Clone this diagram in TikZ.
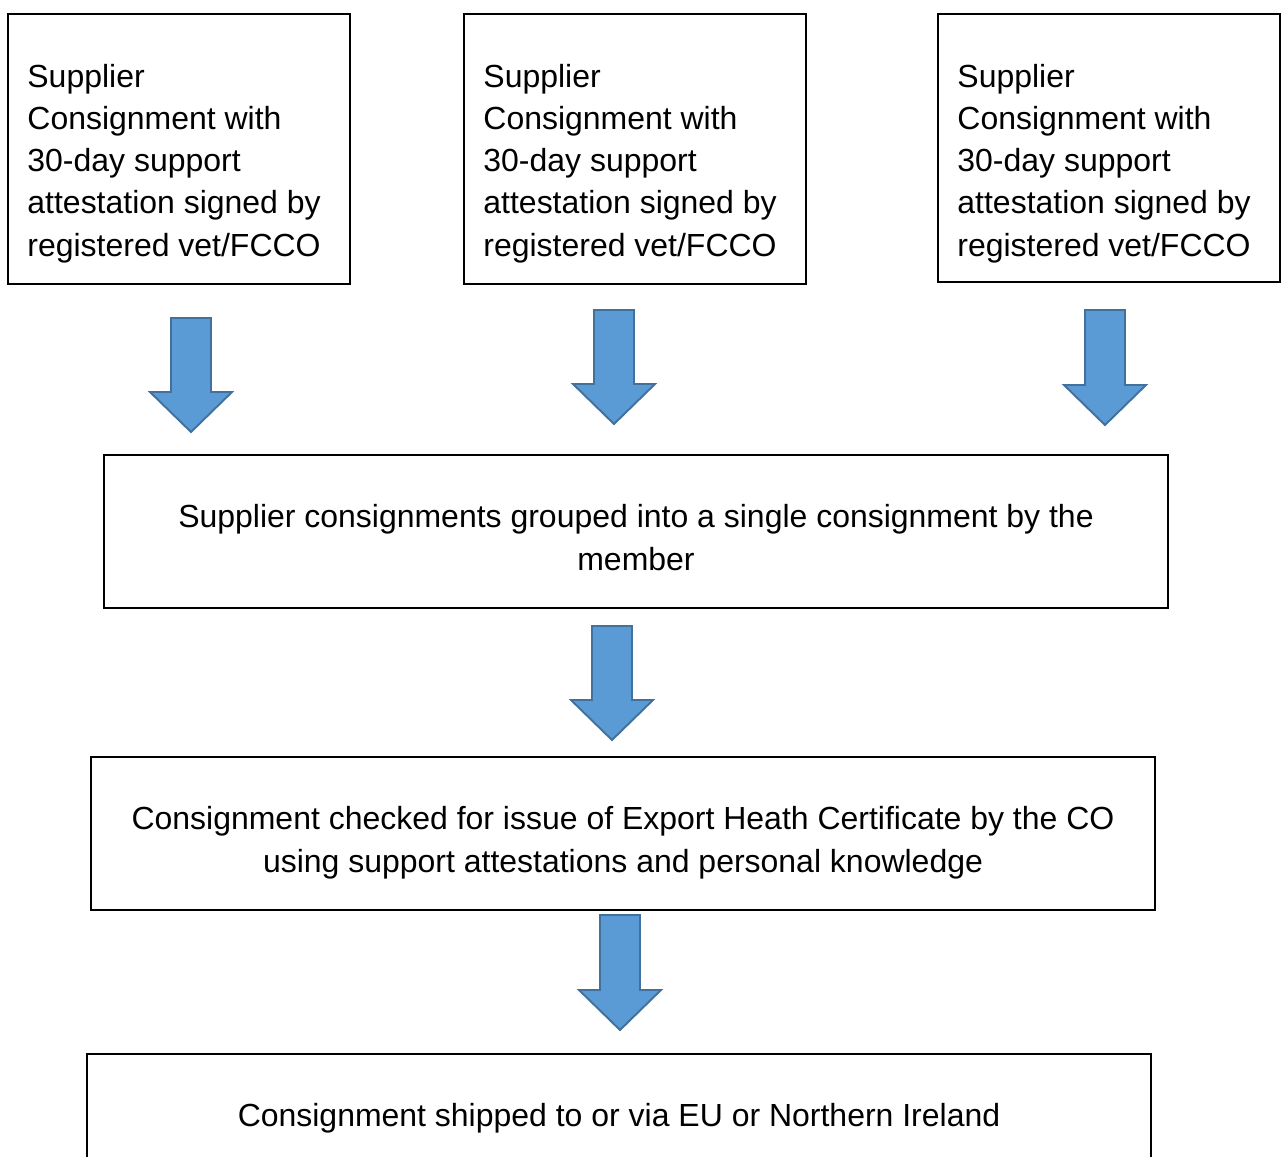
\documentclass[tikz,border=0pt]{standalone}
\usepackage{fontspec}
\setmainfont{Liberation Sans}
\usetikzlibrary{calc}
\definecolor{arrowfill}{HTML}{5B9BD5}
\definecolor{arrowline}{HTML}{41719C}

\begin{document}
\begin{tikzpicture}[x=0.02cm,y=-0.02cm,
  frame/.style={draw,line width=1.1pt,inner sep=0pt},
  txt/.style={inner sep=0pt,font=\fontsize{18.2pt}{24pt}\selectfont},
  blockarrow/.style={fill=arrowfill,draw=arrowline,line width=1.1pt,line join=miter}]
\clip (0,0) rectangle (1286,1157);
\useasboundingbox (0,0) rectangle (1286,1157);
\node[frame,minimum width=6.84cm,minimum height=5.4cm] (sup1) at (179,149) {};
\node[frame,minimum width=6.84cm,minimum height=5.4cm] (sup2) at (635,149) {};
\node[frame,minimum width=6.84cm,minimum height=5.36cm] (sup3) at (1109,148) {};
\node[frame,minimum width=21.28cm,minimum height=3.06cm] (group) at (636,531.5) {};
\node[frame,minimum width=21.28cm,minimum height=3.06cm] (check) at (623,833.5) {};
\node[frame,minimum width=21.28cm,minimum height=3.06cm] (ship) at (619,1130.5) {};
% text sits on the baseline of its last line
\node[txt,align=left,anchor=base west] (sup1t) at ($(sup1.north west)+(20,243)$) {Supplier\\Consignment with\\30-day support\\attestation signed by\\registered vet/FCCO};
\node[txt,align=left,anchor=base west] (sup2t) at ($(sup2.north west)+(20,243)$) {Supplier\\Consignment with\\30-day support\\attestation signed by\\registered vet/FCCO};
\node[txt,align=left,anchor=base west] (sup3t) at ($(sup3.north west)+(20,243)$) {Supplier\\Consignment with\\30-day support\\attestation signed by\\registered vet/FCCO};
\node[txt,align=center,anchor=base] (groupt) at ($(group.north)+(0,116)$) {Supplier consignments grouped into a single consignment by the\\member};
\node[txt,align=center,anchor=base] (checkt) at ($(check.north)+(0,116)$) {Consignment checked for issue of Export Heath Certificate by the CO\\using support attestations and personal knowledge};
\node[txt,align=center,anchor=base] (shipt) at ($(ship.north)+(0,73)$) {Consignment shipped to or via EU or Northern Ireland};
% block arrows
\foreach \ax/\ay/\at in {191/318/432,614/310/424,1105/310/425,612/626/740,620/915/1030}
  \draw[blockarrow] (\ax-20,\ay) -- (\ax+20,\ay) -- (\ax+20,\at-40) -- (\ax+41,\at-40)
    -- (\ax,\at) -- (\ax-41,\at-40) -- (\ax-20,\at-40) -- cycle;
\end{tikzpicture}
\end{document}
